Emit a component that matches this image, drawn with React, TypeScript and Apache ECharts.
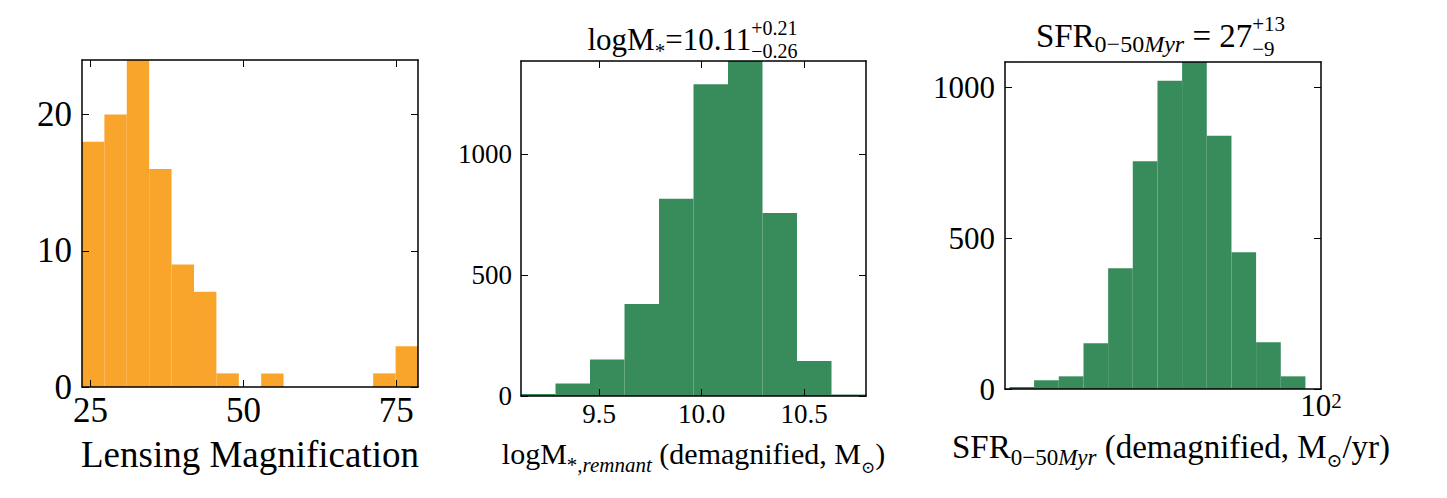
import React, { useEffect, useRef } from "react";
import * as echarts from "echarts";

const FONT = "Liberation Serif";
const SYM_FONT = "DejaVu Serif";
const ORANGE = "#F9A52C";
const GREEN = "#388B5A";

// Panel 1: lensing magnification
const magEdges = [23.62, 27.28, 30.94, 34.6, 38.26, 41.93, 45.59, 49.25, 52.91, 56.57, 60.23, 63.89, 67.55, 71.21, 74.88, 78.54];
const magCounts = [18, 20, 24, 16, 9, 7, 1, 0, 1, 0, 0, 0, 0, 1, 3];
const magXTicks = [25, 50, 75];
const magYTicks = [0, 10, 20];
const magYMax = 24;

// Panel 2: stellar mass
const massEdges = [9.1195, 9.2877, 9.4558, 9.624, 9.7921, 9.9603, 10.1284, 10.2966, 10.4647, 10.6329, 10.801];
const massCounts = [8, 52, 151, 380, 814, 1287, 1383, 756, 145, 6];
const massXTicks = [9.5, 10.0, 10.5];
const massYTicks = [0, 500, 1000];
const massYMax = 1383;

// Panel 3: SFR (log x axis)
const sfrEdges = [10.84, 12.92, 15.41, 18.38, 21.91, 26.12, 31.15, 37.13, 44.28, 52.8, 62.95, 75.06, 89.49];
const sfrCounts = [7, 29, 42, 152, 401, 756, 1023, 1085, 840, 454, 155, 42];
const sfrXMin = 10.5;
const sfrXMax = 100;
const sfrYTicks = [0, 500, 1000];
const sfrYMax = 1085;

let measureCtx: CanvasRenderingContext2D | null = null;
function measure(t: string, size: number, italic?: boolean) {
  if (!measureCtx) measureCtx = document.createElement("canvas").getContext("2d");
  if (!measureCtx) return t.length * size * 0.5;
  measureCtx.font = `${italic ? "italic " : ""}${size}px ${FONT}`;
  return measureCtx.measureText(t).width;
}

type Piece = { t: string; size: number; dy: number; italic?: boolean };
type Run = Piece & { stack?: Piece };

function textEl(p: Piece, x: number, baseline: number) {
  const part: any = { fontFamily: FONT, fontSize: p.size, fill: "#000", lineHeight: p.size };
  if (p.italic) part.fontStyle = "italic";
  return {
    type: "text",
    x,
    y: baseline + p.dy - 0.3375 * p.size,
    style: {
      text: `{a|${p.t}}`,
      rich: { a: part },
      fontSize: p.size,
      fontFamily: FONT,
      fill: "#000",
      align: "left",
      verticalAlign: "middle",
    },
  };
}

function mathLine(runs: Run[], cx: number, baseline: number) {
  const widths = runs.map((r) =>
    Math.max(measure(r.t, r.size, r.italic), r.stack ? measure(r.stack.t, r.stack.size, r.stack.italic) : 0)
  );
  const total = widths.reduce((a, b) => a + b, 0);
  let x = cx - total / 2;
  const children: any[] = [];
  runs.forEach((r, i) => {
    children.push(textEl(r, x, baseline));
    if (r.stack) children.push(textEl(r.stack, x, baseline));
    x += widths[i];
  });
  return children;
}

function histSeries(g: number, edges: number[], counts: number[], color: string) {
  return {
    type: "custom",
    xAxisIndex: g * 2,
    yAxisIndex: g * 2,
    z: 1,
    encode: { x: [0, 1], y: 2 },
    data: counts.map((c, i) => [edges[i], edges[i + 1], c]),
    renderItem: (_params: any, api: any) => {
      const p0 = api.coord([api.value(0), 0]);
      const p1 = api.coord([api.value(1), api.value(2)]);
      return {
        type: "rect",
        shape: { x: p0[0], y: p1[1], width: p1[0] - p0[0], height: p0[1] - p1[1] },
        style: { fill: color },
      };
    },
  };
}

const axisLine = { show: true, onZero: false, lineStyle: { color: "#000", width: 1.5 } };
const tickStyle = (vals: number[] | null) =>
  vals
    ? { show: true, inside: true, length: 7, customValues: vals, lineStyle: { color: "#000", width: 1 } }
    : { show: false };

function richLabel(ticks: number[] | null, size: number, margin: number, fmt: (v: number) => string) {
  return {
    ...(ticks ? { customValues: ticks } : {}),
    margin,
    color: "#000",
    fontFamily: FONT,
    fontSize: size,
    formatter: (v: number) => `{t|${fmt(v)}}`,
    rich: { t: { fontFamily: FONT, fontSize: size, color: "#000" } },
  };
}

function xPair(g: number, opt: any, ticks: number[] | null, label: any, name: any) {
  const base = { gridIndex: g, z: 5, splitLine: { show: false }, axisLine, ...opt };
  return [
    { ...base, position: "bottom", axisTick: tickStyle(ticks), axisLabel: label, ...name },
    { ...base, position: "top", axisTick: tickStyle(ticks), axisLabel: { show: false } },
  ];
}

function yPair(g: number, max: number, ticks: number[], fontSize: number, margin: number) {
  const base = { type: "value", gridIndex: g, min: 0, max, z: 5, splitLine: { show: false }, axisLine };
  return [
    {
      ...base,
      position: "left",
      axisTick: tickStyle(ticks),
      axisLabel: richLabel(ticks, fontSize, margin, (v) => String(v)),
    },
    { ...base, position: "right", axisTick: tickStyle(ticks), axisLabel: { show: false } },
  ];
}

export default function App() {
  const ref = useRef<HTMLDivElement>(null);
  useEffect(() => {
    if (!ref.current) return;
    const chart = echarts.init(ref.current, undefined, { renderer: "svg" });

    const magXLabel = "{m|Lensing Magnification}";
    const massXLabel = "{m|logM}{s|*}{si|,remnant}{m| (demagnified, M}{o|⊙}{m|)}";
    const sfrXLabel = "{m|SFR}{s|0−50}{si|Myr}{m| (demagnified, M}{o|⊙}{m|/yr)}";

    const titles = [
      ...mathLine(
        [
          { t: "logM", size: 31, dy: 0 },
          { t: "*", size: 21, dy: 8.5 },
          { t: "=10.11", size: 31, dy: 0 },
          { t: "+0.21", size: 20, dy: -15, stack: { t: "−0.26", size: 20, dy: 7.5 } },
        ],
        692.5,
        50
      ),
      ...mathLine(
        [
          { t: "SFR", size: 33, dy: 0 },
          { t: "0−50", size: 24, dy: 5 },
          { t: "Myr", size: 24, dy: 5, italic: true },
          { t: " = ", size: 33, dy: 0 },
          { t: "27", size: 33, dy: 0 },
          { t: "+13", size: 21, dy: -16, stack: { t: "−9", size: 21, dy: 9 } },
        ],
        1160.5,
        47
      ),
    ];

    const richM = (size: number) => ({ fontFamily: FONT, fontSize: size, lineHeight: 44, color: "#000" });
    const richS = (size: number, lh: number, italic?: boolean) => {
      const s: any = { fontFamily: FONT, fontSize: size, lineHeight: lh, verticalAlign: "bottom", color: "#000" };
      if (italic) s.fontStyle = "italic";
      return s;
    };

    const option: any = {
      animation: false,
      backgroundColor: "#fff",
      grid: [
        { left: 82, top: 60, width: 336, height: 327 },
        { left: 521, top: 61, width: 345, height: 335 },
        { left: 1005, top: 62, width: 316, height: 327 },
      ],
      xAxis: [
        ...xPair(
          0,
          { type: "value", min: magEdges[0], max: magEdges[magEdges.length - 1] },
          magXTicks,
          richLabel(magXTicks, 35, 6, (v) => String(v)),
          {
            name: magXLabel,
            nameLocation: "middle",
            nameGap: 41,
            nameTextStyle: {
              color: "#000",
              fontFamily: FONT,
              fontSize: 37,
              lineHeight: 44,
              rich: { m: richM(37) },
            },
          }
        ),
        ...xPair(
          1,
          { type: "value", min: massEdges[0], max: massEdges[massEdges.length - 1] },
          massXTicks,
          richLabel(massXTicks, 27, 4, (v) => v.toFixed(1)),
          {
            name: massXLabel,
            nameLocation: "middle",
            nameGap: 27,
            nameTextStyle: {
              color: "#000",
              fontFamily: FONT,
              fontSize: 30,
              lineHeight: 44,
              rich: {
                m: richM(30),
                s: richS(21, 28),
                si: richS(21, 28, true),
                o: { fontFamily: SYM_FONT, fontSize: 17, lineHeight: 26, verticalAlign: "bottom", color: "#000" },
              },
            },
          }
        ),
        ...xPair(
          2,
          { type: "log", logBase: 10, min: sfrXMin, max: sfrXMax },
          null,
          {
            showMaxLabel: true,
            margin: 1,
            color: "#000",
            fontFamily: FONT,
            fontSize: 31,
            formatter: (v: number) => (Math.abs(v - 100) < 1e-6 ? "{n|10}{p|2}" : ""),
            rich: {
              n: { fontFamily: FONT, fontSize: 31, lineHeight: 30, color: "#000" },
              p: { fontFamily: FONT, fontSize: 21, lineHeight: 19, verticalAlign: "top", color: "#000" },
            },
          },
          {
            name: sfrXLabel,
            nameLocation: "middle",
            nameGap: 31,
            nameTextStyle: {
              color: "#000",
              fontFamily: FONT,
              fontSize: 33,
              lineHeight: 44,
              padding: [0, 0, 0, 16],
              rich: {
                m: richM(33),
                s: richS(23, 22),
                si: richS(23, 22, true),
                o: { fontFamily: SYM_FONT, fontSize: 19, lineHeight: 24, verticalAlign: "bottom", color: "#000" },
              },
            },
          }
        ),
      ],
      yAxis: [
        ...yPair(0, magYMax, magYTicks, 35, 10),
        ...yPair(1, massYMax, massYTicks, 27, 9),
        ...yPair(2, sfrYMax, sfrYTicks, 31, 10),
      ],
      series: [
        histSeries(0, magEdges, magCounts, ORANGE),
        histSeries(1, massEdges, massCounts, GREEN),
        histSeries(2, sfrEdges, sfrCounts, GREEN),
      ],
      graphic: { elements: titles },
    };

    chart.setOption(option);
    return () => chart.dispose();
  }, []);

  return <div ref={ref} style={{ position: "fixed", left: 0, top: 0, width: 1447, height: 498, background: "#fff" }} />;
}
